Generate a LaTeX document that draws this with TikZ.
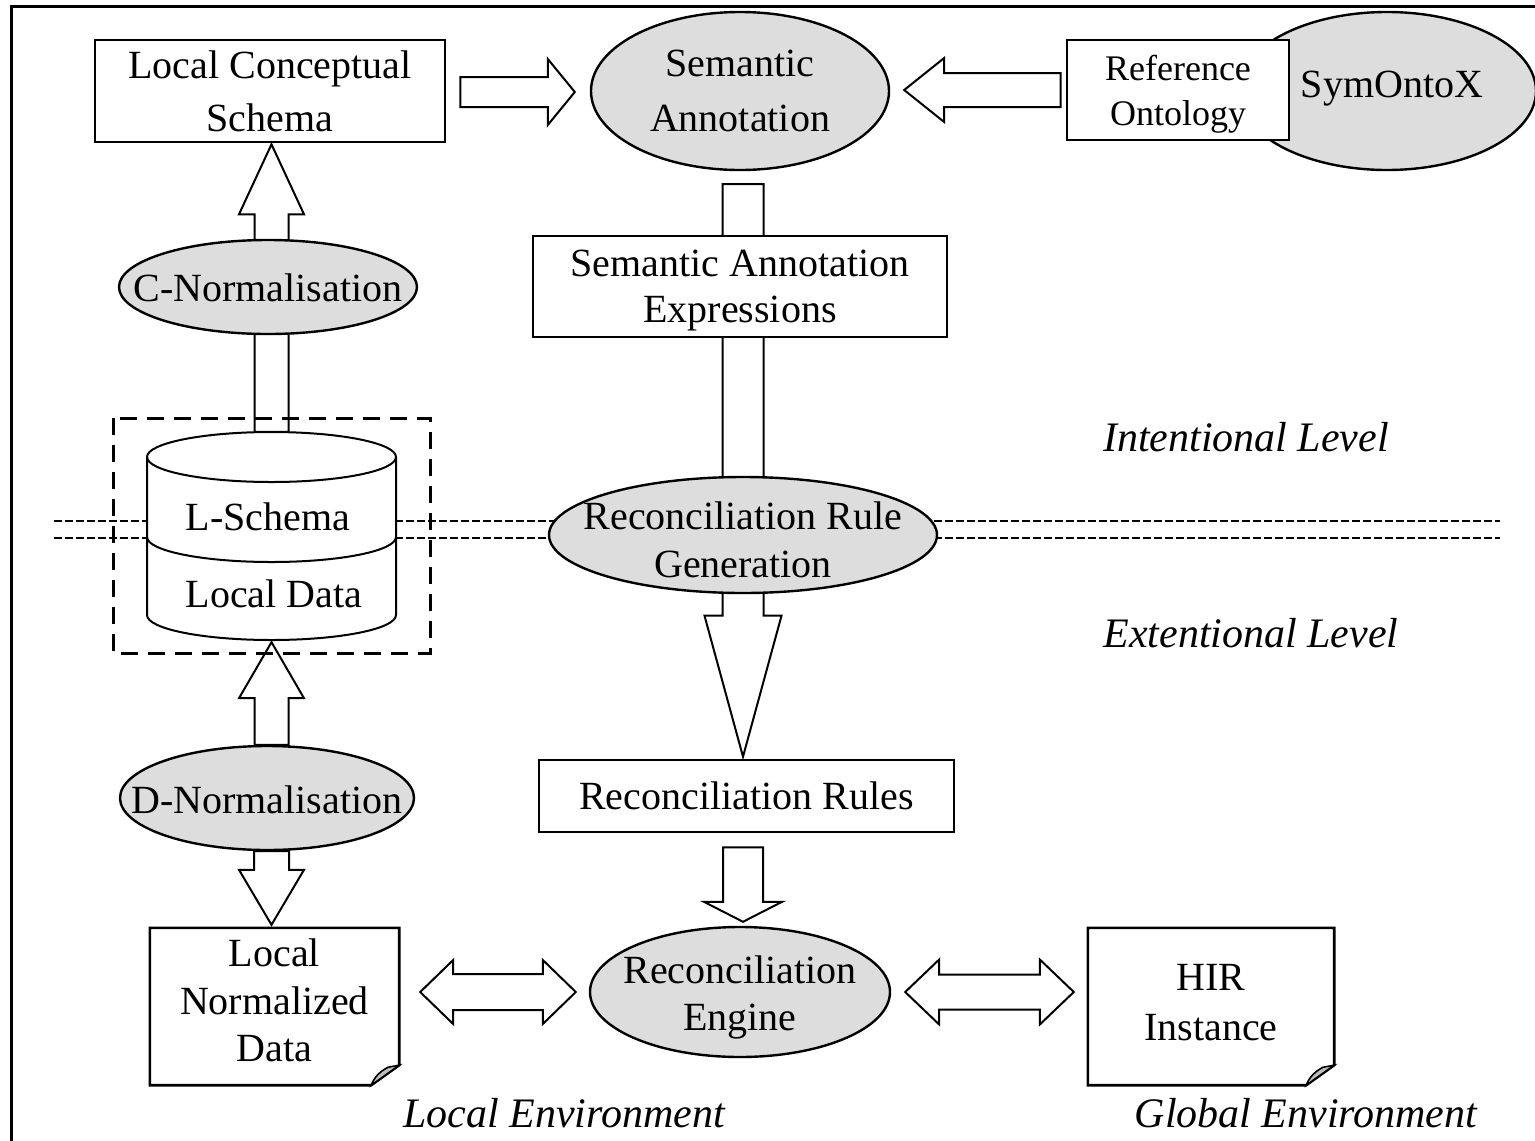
\documentclass[tikz,border=0pt]{standalone}
\usepackage{fontspec}
\setmainfont{Liberation Serif}
\usetikzlibrary{calc,shapes.geometric,backgrounds}
\definecolor{procgray}{RGB}{221,221,221}
\definecolor{curlgray}{RGB}{190,190,190}

% block arrow: from, to, shaft half width, head half width, head length (pt)
\newcommand{\fatarrow}[5]{%
  \path ($(#2)!#5pt!(#1)$) coordinate (fahead);
  \draw[blockarrow] ($(#1)!#3pt!90:(#2)$) -- ($(fahead)!#3pt!-90:(#1)$)
    -- ($(fahead)!#4pt!-90:(#1)$) -- (#2) -- ($(fahead)!#4pt!90:(#1)$)
    -- ($(fahead)!#3pt!90:(#1)$) -- ($(#1)!#3pt!-90:(#2)$) -- cycle;}

% double-headed block arrow, same arguments
\newcommand{\fatdarrow}[5]{%
  \path ($(#1)!#5pt!(#2)$) coordinate (faa) ($(#2)!#5pt!(#1)$) coordinate (fab);
  \draw[blockarrow] (#1) -- ($(faa)!#4pt!90:(#2)$) -- ($(faa)!#3pt!90:(#2)$)
    -- ($(fab)!#3pt!-90:(#1)$) -- ($(fab)!#4pt!-90:(#1)$) -- (#2)
    -- ($(fab)!#4pt!90:(#1)$) -- ($(fab)!#3pt!90:(#1)$)
    -- ($(faa)!#3pt!-90:(#2)$) -- ($(faa)!#4pt!-90:(#2)$) -- cycle;}

% document outline with a curled bottom-right corner
\newcommand{\pageoutline}[1]{%
  \draw[line width=2.6pt, fill=white, line join=miter] (#1.north west) -- (#1.north east)
    -- ([yshift=20pt]#1.south east) -- ([xshift=-28pt]#1.south east) -- (#1.south west) -- cycle;
  \filldraw[line width=1.6pt, fill=curlgray] ([yshift=20pt]#1.south east)
    -- ([shift={(-11pt,18pt)}]#1.south east)
    .. controls ([shift={(-19pt,14pt)}]#1.south east) and ([shift={(-25pt,8pt)}]#1.south east)
    .. ([xshift=-28pt]#1.south east) -- cycle;}

\begin{document}
\begin{tikzpicture}[x=1pt,y=-1pt,
  box/.style={draw, line width=2.6pt, fill=white, rectangle, inner sep=0pt, align=center,
    font=\fontsize{40}{48}\selectfont},
  page/.style={rectangle, inner sep=0pt, align=center, font=\fontsize{40}{48}\selectfont},
  proc/.style={draw, line width=2.4pt, fill=procgray, ellipse, inner sep=0pt},
  txt/.style={inner sep=0pt, align=center, font=\fontsize{40}{48}\selectfont},
  note/.style={inner sep=0pt, font=\fontsize{42}{50}\selectfont\itshape},
  blockarrow/.style={draw, line width=2pt, fill=white, line join=miter},
  levelline/.style={line width=1.6pt, dash pattern=on 8pt off 3pt},
  groupbox/.style={line width=3pt, dash pattern=on 17pt off 10pt},
  cylline/.style={line width=2pt},
]
\useasboundingbox (0,0) rectangle (1535,1141);

% outer frame
\draw[line width=3pt] (11.5,1141) -- (11.5,6) -- (1535,6);

% main nodes
\node[box, minimum width=350pt, minimum height=102pt, font=\fontsize{40}{53}\selectfont] (lcs) at (270,91) {Local Conceptual\\Schema};
\node[proc, minimum width=298pt, minimum height=158pt] (sa) at (740,91) {};
\node[proc, minimum width=298pt, minimum height=158pt] (sym) at (1387,91) {};
\node[box, minimum width=222pt, minimum height=100pt, text depth=-4pt, font=\fontsize{36}{45}\selectfont] (ro) at (1178,90) {Reference\\Ontology};
\node[box, minimum width=414pt, minimum height=101pt, text depth=-5pt, font=\fontsize{40}{46}\selectfont] (sae) at (740,286.5) {Semantic Annotation\\Expressions};
\node[proc, minimum width=298pt, minimum height=94pt] (cn) at (268,287) {};
\node[proc, minimum width=388pt, minimum height=116pt] (rrg) at (743,535) {};
\node[inner sep=0pt, minimum width=249pt, minimum height=208pt] (cyl) at (271.5,536) {};
\node[proc, minimum width=294pt, minimum height=104pt] (dn) at (267,798) {};
\node[box, minimum width=415pt, minimum height=72pt] (rr) at (746.5,796) {Reconciliation Rules};
\node[proc, minimum width=300pt, minimum height=130pt] (re) at (740,992) {};
\node[page, minimum width=249pt, minimum height=157pt, text depth=12pt, font=\fontsize{40}{47.5}\selectfont] (lnd) at (274.5,1006.5) {Local\\Normalized\\Data};
\node[page, minimum width=246pt, minimum height=157pt, text depth=9pt, font=\fontsize{40}{50}\selectfont] (hir) at (1211,1006.5) {HIR\\Instance};

% connector end points
\coordinate (a1s) at ($(lcs.east)+(14,1)$);
\coordinate (a1e) at ($(sa.west)+(-15,1)$);
\coordinate (a2s) at ($(ro.west)+(-5,0)$);
\coordinate (a2e) at ($(sa.east)+(14,-1)$);
\coordinate (a3s) at ($(sa.south)+(3,13)$);
\coordinate (a3e) at ($(rr.north)+(-3.5,-2)$);
\coordinate (a4s) at ($(rr.south)+(-3.5,14)$);
\coordinate (a4e) at ($(re.north)+(3,-4)$);
\coordinate (a5s) at (cyl.north);
\coordinate (a5e) at ($(lcs.south)+(1.5,1)$);
\coordinate (a6s) at ($(dn.north)+(4.5,0)$);
\coordinate (a6e) at ($(cyl.south)+(0,2)$);
\coordinate (a7s) at ($(dn.south)+(4.5,0)$);
\coordinate (a7e) at ($(lnd.north)+(-3,-3)$);
\coordinate (a8s) at ($(lnd.east)+(21,-14.5)$);
\coordinate (a8e) at ($(re.west)+(-13,0)$);
\coordinate (a9s) at ($(re.east)+(14,0)$);
\coordinate (a9e) at ($(hir.west)+(-14,-14.5)$);

\begin{pgfonlayer}{background}
  % boundary between intentional and extentional level
  \draw[levelline] (54,521) -- (1500,521);
  \draw[levelline] (54,538) -- (1500,538);
  % arrows running behind other nodes
  \fatarrow{a3s}{a3e}{20.5}{38.5}{141}
  \fatarrow{a5s}{a5e}{17}{32.5}{70}
  \fatarrow{a6s}{a6e}{17}{32.5}{56}
  % document outlines
  \pageoutline{lnd}
  \pageoutline{hir}
\end{pgfonlayer}

% database cylinder
\draw[cylline, fill=white] (147,457) -- (147,615)
  arc[start angle=180, end angle=360, x radius=124.5pt, y radius=25pt] -- (396,457)
  arc[start angle=0, end angle=180, x radius=124.5pt, y radius=25pt] -- cycle;
\draw[cylline] (147,457) arc[start angle=180, end angle=360, x radius=124.5pt, y radius=25pt];
\draw[cylline] (147,537) arc[start angle=180, end angle=360, x radius=124.5pt, y radius=25pt];
\node[txt] (lstxt) at (268,517) {L-Schema};
\node[txt] (ldtxt) at (274,594) {Local Data};

% dashed group around the local source
\draw[groupbox] (113,418) rectangle (430,653);

% texts of the process ellipses
\node[txt, font=\fontsize{40}{55}\selectfont] (satxt) at (sa) {Semantic\\Annotation};
\node[txt] (symtxt) at (1392,89) {SymOntoX};
\node[txt] (cntxt) at (268,288) {C-Normalisation};
\node[txt] (rrgtxt) at (743,540) {Reconciliation Rule\\Generation};
\node[txt] (dntxt) at (267,800) {D-Normalisation};
\node[txt, font=\fontsize{40}{47}\selectfont] (retxt) at (740,997) {Reconciliation\\Engine};

% remaining arrows
\fatarrow{a1s}{a1e}{15}{33}{27}
\fatarrow{a2s}{a2e}{17}{32}{40}
\fatarrow{a4s}{a4e}{20}{39}{20}
\fatarrow{a7s}{a7e}{17.5}{32.5}{55}
\fatdarrow{a8s}{a8e}{18}{32}{33}
\fatdarrow{a9s}{a9e}{17.5}{32.5}{34}

% level and environment labels
\node[note] (intl) at (1246,437) {Intentional Level};
\node[note] (extl) at (1251,633) {Extentional Level};
\node[note] (lenv) at (564,1113) {Local Environment};
\node[note] (genv) at (1306,1113) {Global Environment};
\end{tikzpicture}
\end{document}
